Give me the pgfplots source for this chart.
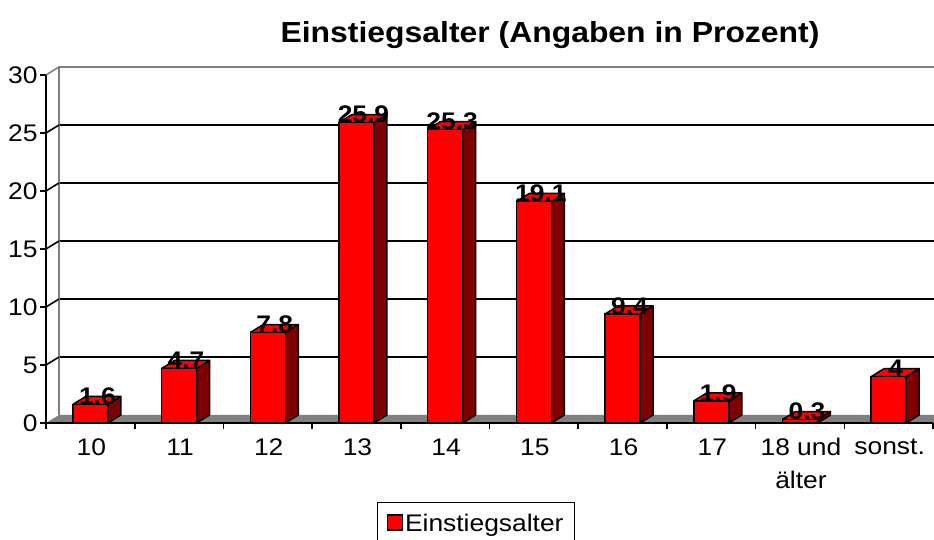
\documentclass[border=0pt]{standalone}
\usepackage{fontspec}
\setmainfont{Liberation Sans}[FakeStretch=1.1]
\usepackage{pgfplots}
\pgfplotsset{compat=1.18}
\definecolor{barred}{RGB}{255,0,0}
\definecolor{bardark}{RGB}{128,0,0}
\definecolor{floorgray}{RGB}{128,128,128}
\definecolor{wallgray}{RGB}{128,128,128}
% half bar width (cat units), depth offset in data units
\def\hw{0.1973}\def\ddx{0.1466}\def\ddy{0.69}
\newcommand{\sidetop}[2]{%
  \pgfmathsetmacro\Lx{#1-\hw}\pgfmathsetmacro\Rx{#1+\hw}%
  \pgfmathsetmacro\Lb{#1-\hw+\ddx}\pgfmathsetmacro\Rb{#1+\hw+\ddx}%
  \pgfmathsetmacro\Vt{#2+\ddy}%
  \edef\temp{\noexpand\addplot[forget plot, fill=bardark, draw=black, line width=1.5pt, line join=round]
    coordinates {(\Rx,0) (\Rb,\ddy) (\Rb,\Vt) (\Rx,#2) (\Rx,0)};
    \noexpand\addplot[forget plot, fill=barred, draw=black, line width=1.5pt, line join=round]
    coordinates {(\Lx,#2) (\Rx,#2) (\Rb,\Vt) (\Lb,\Vt) (\Lx,#2)};}%
  \temp}
\begin{document}
\begin{tikzpicture}
\path[use as bounding box] (0,0) rectangle (934pt,540pt);
\node[anchor=base, font=\fontsize{29}{32}\selectfont\bfseries] at (550pt,497pt) {Einstiegsalter (Angaben in Prozent)};
% back wall
\begin{axis}[at={(59pt,125pt)}, anchor=south west, scale only axis,
  width=887pt, height=348pt, xmin=-0.5, xmax=9.5, ymin=0, ymax=30,
  axis line style={draw=none}, xtick=\empty, ytick={5,10,...,25}, yticklabels={},
  ymajorgrids, grid style={black, line width=1.6pt}, major tick length=0pt, clip=false]
\draw[wallgray, line width=1.6pt] (axis cs:-0.5,0) -- (axis cs:-0.5,30) -- (axis cs:10.5,30);
\end{axis}
% front
\begin{axis}[at={(46pt,117pt)}, anchor=south west, scale only axis,
  width=887pt, height=348pt, xmin=-0.5, xmax=9.5, ymin=0, ymax=30,
  clip=false, axis on top, axis lines*=left,
  axis line style={black, line width=1.6pt},
  /pgf/number format/assume math mode=true,
  ytick={0,5,...,30}, tick align=outside, major tick length=6pt,
  tick style={black, line width=1.6pt},
  y tick label style={font=\fontsize{24}{26}\selectfont, xshift=1pt},
  xtick={-0.5,0.5,...,9.5}, xticklabels={},
  extra x ticks={0,1,...,9},
  extra x tick labels={10,11,12,13,14,15,16,17,{18 und\\älter},sonst.},
  extra x tick style={major tick length=0pt},
  x tick label style={font=\fontsize{24}{33}\selectfont, align=center, yshift=-12pt, xshift=1pt},
  legend style={at={(0.4848,-0.227)}, anchor=north, draw=black, line width=1.5pt,
    font=\fontsize{24}{26}\selectfont, inner xsep=9pt, inner ysep=9pt},
]
\pgfplotsinvokeforeach{5,10,15,20,25}{\draw[black,line width=1.6pt] (axis cs:-0.5,#1) -- ([shift={(13pt,8pt)}]axis cs:-0.5,#1);}
\draw[wallgray, line width=1.6pt] (axis cs:-0.5,30) -- ([shift={(13pt,8pt)}]axis cs:-0.5,30);
\addplot[forget plot, fill=floorgray, draw=none] coordinates {(-0.5,0) (9.5,0) (9.6466,0.69) (-0.3534,0.69) (-0.5,0)};
\sidetop{0}{1.6}
\sidetop{1}{4.7}
\sidetop{2}{7.8}
\sidetop{3}{25.9}
\sidetop{4}{25.3}
\sidetop{5}{19.1}
\sidetop{6}{9.4}
\sidetop{7}{1.9}
\sidetop{8}{0.3}
\sidetop{9}{4}
\addplot[ybar, bar width=35pt, bar shift=0pt, fill=barred, draw=black, line width=1.5pt,
  legend image code/.code={\draw[fill=barred, draw=black, line width=1.5pt] (0pt,-7pt) rectangle (15pt,8pt);},
  nodes near coords,
  every node near coord/.append style={font=\fontsize{24}{26}\selectfont\bfseries, anchor=center, xshift=7pt, yshift=8pt, text=black}]
  coordinates {(0,1.6) (1,4.7) (2,7.8) (3,25.9) (4,25.3) (5,19.1) (6,9.4) (7,1.9) (8,0.3) (9,4)};
\addlegendentry{Einstiegsalter}
\end{axis}
\end{tikzpicture}
\end{document}
